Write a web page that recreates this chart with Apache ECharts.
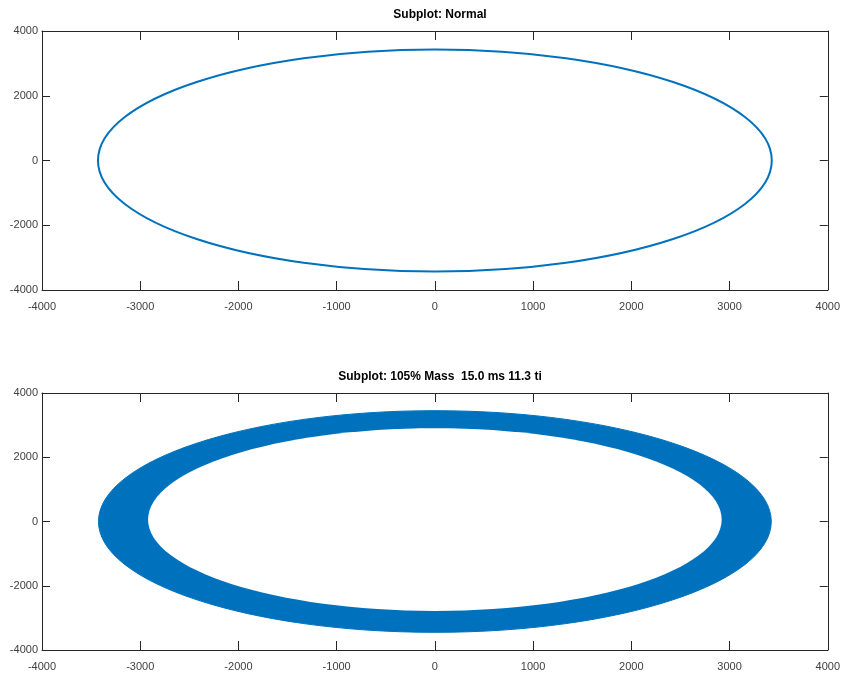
<!DOCTYPE html>
<html>
<head>
<meta charset="utf-8">
<script src="https://cdn.jsdelivr.net/npm/echarts@6/dist/echarts.min.js"></script>
<style>html,body{margin:0;padding:0;background:#fff}#c{width:843px;height:677px}</style>
</head>
<body>
<div id="c"></div>
<script>
// Titles
const titles = ['Subplot: Normal', 'Subplot: 105% Mass  15.0 ms 11.3 ti'];
// Axis ticks
const axisMin = -4000, axisMax = 4000;
const xInterval = 1000, yInterval = 2000;
// Orbits: [centerX, centerY, radiusX, radiusY]
const normalOrbit = [0, 0, 3430, 3430];
const massOuterOrbit = [0, 0, 3425, 3450];
const massInnerOrbit = [0, 60, 2920, 2845];

const blue = '#0072BD';
const axisColor = '#262626';
const fontFam = '"Liberation Sans Narrow", "Liberation Sans", Arial, sans-serif';

const chart = echarts.init(document.getElementById('c'), null, {renderer: 'canvas'});

const plainLabel = v => String(v);

function xAx(gi, pos, labels) {
  return {
    gridIndex: gi, type: 'value', position: pos, min: axisMin, max: axisMax, interval: xInterval,
    axisLine: {show: true, onZero: false, lineStyle: {color: axisColor, width: 1}},
    axisTick: {show: true, inside: true, length: 9, lineStyle: {color: axisColor}},
    axisLabel: {show: labels, color: '#404040', fontSize: 11, fontFamily: fontFam, margin: 11, formatter: plainLabel},
    splitLine: {show: false}
  };
}
function yAx(gi, pos, labels) {
  return {
    gridIndex: gi, type: 'value', position: pos, min: axisMin, max: axisMax, interval: yInterval,
    axisLine: {show: true, onZero: false, lineStyle: {color: axisColor, width: 1}},
    axisTick: {show: true, inside: true, length: 8, lineStyle: {color: axisColor}},
    axisLabel: {show: labels, color: '#404040', fontSize: 11, fontFamily: fontFam, margin: 4, formatter: plainLabel},
    splitLine: {show: false}
  };
}

function ellipseItem(params, api, style) {
  const c = api.coord([api.value(0), api.value(1)]);
  const s = api.size([api.value(2), api.value(3)]);
  return {type: 'ellipse', shape: {cx: c[0], cy: c[1], rx: s[0], ry: s[1]}, style: style};
}

chart.setOption({
  animation: false,
  backgroundColor: '#fff',
  title: [
    {text: titles[0], left: 435, top: 4, textAlign: 'center',
     textStyle: {fontSize: 12, fontWeight: 'bold', color: '#000', fontFamily: fontFam}},
    {text: titles[1], left: 435, top: 366, textAlign: 'center',
     textStyle: {fontSize: 12, fontWeight: 'bold', color: '#000', fontFamily: fontFam}}
  ],
  grid: [
    {left: 42, right: 14, top: 31, height: 259},
    {left: 42, right: 14, top: 393, height: 257}
  ],
  xAxis: [xAx(0, 'bottom', true), xAx(0, 'top', false), xAx(1, 'bottom', true), xAx(1, 'top', false)],
  yAxis: [yAx(0, 'left', true), yAx(0, 'right', false), yAx(1, 'left', true), yAx(1, 'right', false)],
  series: [
    {
      type: 'custom', xAxisIndex: 0, yAxisIndex: 0,
      data: [normalOrbit],
      renderItem: (p, api) => ellipseItem(p, api, {fill: null, stroke: blue, lineWidth: 2})
    },
    {
      type: 'custom', xAxisIndex: 2, yAxisIndex: 2,
      data: [massOuterOrbit],
      renderItem: (p, api) => ellipseItem(p, api, {fill: blue, stroke: blue, lineWidth: 1})
    },
    {
      type: 'custom', xAxisIndex: 2, yAxisIndex: 2, z: 3,
      data: [massInnerOrbit],
      renderItem: (p, api) => ellipseItem(p, api, {fill: '#fff', stroke: null})
    }
  ]
});
</script>
</body>
</html>
